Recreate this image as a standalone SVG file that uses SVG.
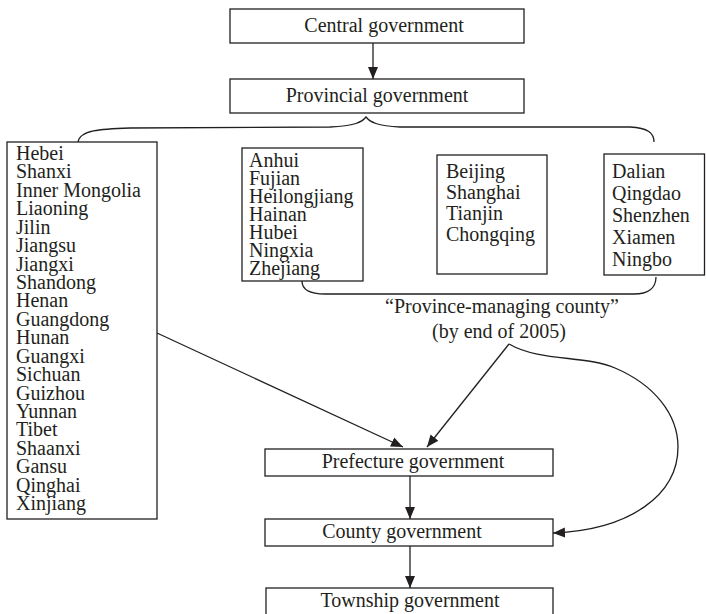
<svg xmlns="http://www.w3.org/2000/svg" width="706" height="614" viewBox="0 0 706 614">
<style>
text{font-family:"Liberation Serif","DejaVu Serif",serif;font-size:20px;fill:#231f20}
.c{text-anchor:middle}
.box{fill:#fff;stroke:#231f20;stroke-width:1.3}
.ln{fill:none;stroke:#231f20;stroke-width:1.3}
</style>
<defs>
<marker id="ah" markerUnits="userSpaceOnUse" markerWidth="12" markerHeight="12" viewBox="0 0 12 10" refX="12" refY="5" orient="auto">
<path d="M0,0 L12,5 L0,10 Z" fill="#231f20"/>
</marker>
</defs>
<rect width="706" height="614" fill="#fff"/>
<g id="connectors">
<line class="ln" x1="373" y1="43" x2="373" y2="79" marker-end="url(#ah)"/>
<path class="ln" d="M78,142 C80,130 100,129 130,128 L330,127 C355,126 362,122 366,117 C370,122 377,126 400,127 L630,127 C648,128 654,133 654,142"/>
<path class="ln" d="M302,281 C302,291 312,294 325,294 L634,294 C648,294 656,288 656,277"/>
<line class="ln" x1="157" y1="333" x2="403" y2="447" marker-end="url(#ah)"/>
<line class="ln" x1="509" y1="344" x2="427" y2="447" marker-end="url(#ah)"/>
<path class="ln" d="M509,344 C540,362 585,355 615,368 C655,385 678,415 678,447 C678,495 630,530 553,533" marker-end="url(#ah)"/>
<line class="ln" x1="410" y1="476" x2="410" y2="519" marker-end="url(#ah)"/>
<line class="ln" x1="410" y1="546" x2="410" y2="588" marker-end="url(#ah)"/>
</g>
<g id="central"><rect class="box" x="230" y="9" width="294" height="34"/><text class="c" x="384" y="32">Central government</text></g>
<g id="provincial"><rect class="box" x="230" y="79" width="294" height="34"/><text class="c" x="377" y="102">Provincial government</text></g>
<g id="group1"><rect class="box" x="7" y="142" width="150" height="377"/>
<text x="16" y="160">Hebei</text>
<text x="16" y="178.4">Shanxi</text>
<text x="16" y="196.8">Inner Mongolia</text>
<text x="16" y="215.3">Liaoning</text>
<text x="16" y="233.7">Jilin</text>
<text x="16" y="252.1">Jiangsu</text>
<text x="16" y="270.5">Jiangxi</text>
<text x="16" y="288.9">Shandong</text>
<text x="16" y="307.4">Henan</text>
<text x="16" y="325.8">Guangdong</text>
<text x="16" y="344.2">Hunan</text>
<text x="16" y="362.6">Guangxi</text>
<text x="16" y="381">Sichuan</text>
<text x="16" y="399.5">Guizhou</text>
<text x="16" y="417.9">Yunnan</text>
<text x="16" y="436.3">Tibet</text>
<text x="16" y="454.7">Shaanxi</text>
<text x="16" y="473.1">Gansu</text>
<text x="16" y="491.6">Qinghai</text>
<text x="16" y="510">Xinjiang</text>
</g>
<g id="group2"><rect class="box" x="242" y="148" width="121" height="133"/>
<text x="249" y="167">Anhui</text>
<text x="249" y="185">Fujian</text>
<text x="249" y="203">Heilongjiang</text>
<text x="249" y="221">Hainan</text>
<text x="249" y="239">Hubei</text>
<text x="249" y="257">Ningxia</text>
<text x="249" y="275">Zhejiang</text>
</g>
<g id="group3"><rect class="box" x="437" y="155" width="110" height="119"/>
<text x="446" y="178">Beijing</text>
<text x="446" y="199">Shanghai</text>
<text x="446" y="220">Tianjin</text>
<text x="446" y="241">Chongqing</text>
</g>
<g id="group4"><rect class="box" x="604" y="154" width="100.5" height="121"/>
<text x="612" y="178">Dalian</text>
<text x="612" y="200">Qingdao</text>
<text x="612" y="222">Shenzhen</text>
<text x="612" y="244">Xiamen</text>
<text x="612" y="266">Ningbo</text>
</g>
<g id="pmc-label"><text class="c" x="502" y="313">“Province-managing county”</text><text class="c" x="499" y="338">(by end of 2005)</text></g>
<g id="prefecture"><rect class="box" x="265" y="449" width="288" height="27"/><text class="c" x="413" y="468">Prefecture government</text></g>
<g id="county"><rect class="box" x="265" y="519" width="288" height="27"/><text class="c" x="402" y="538">County government</text></g>
<g id="township"><rect class="box" x="266" y="588" width="287" height="30"/><text class="c" x="410" y="607">Township government</text></g>
</svg>
